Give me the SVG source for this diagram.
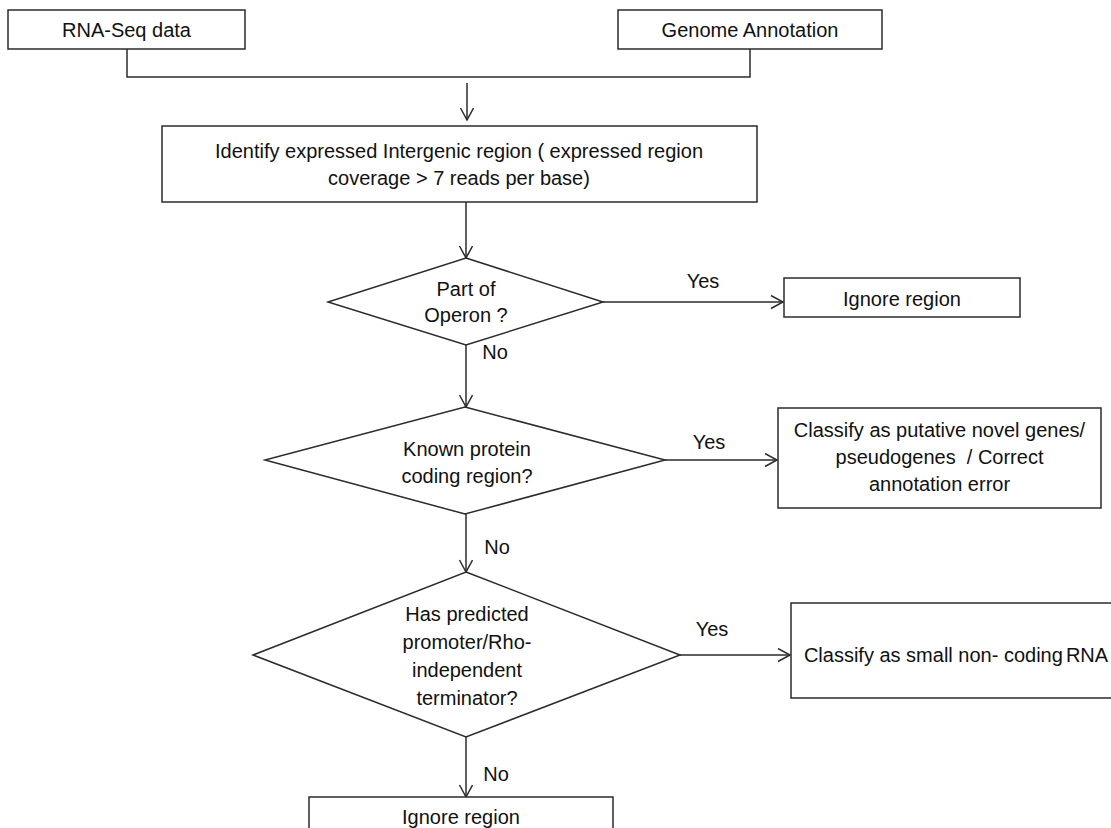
<svg xmlns="http://www.w3.org/2000/svg" width="1111" height="828" viewBox="0 0 1111 828">
<defs>
<marker id="arr" markerUnits="userSpaceOnUse" markerWidth="16" markerHeight="16" refX="13" refY="7" orient="auto">
<path d="M1,0.5 L13,7 L1,13.5" fill="none" stroke="#2b2b2b" stroke-width="1.5"/>
</marker>
<style>
.b{fill:#fff;stroke:#2b2b2b;stroke-width:1.5}
.t{font-family:"Liberation Sans",Arial,sans-serif;font-size:20px;fill:#111;text-anchor:middle}
.c{fill:none;stroke:#2b2b2b;stroke-width:1.5}
</style>
</defs>
<rect width="1111" height="828" fill="#fff"/>
<g id="connectors">
<polyline class="c" points="127,49 127,77 750,77 750,49"/>
<line class="c" x1="467" y1="83" x2="467" y2="120" marker-end="url(#arr)"/>
<line class="c" x1="466" y1="202" x2="466" y2="258" marker-end="url(#arr)"/>
<line class="c" x1="603" y1="302" x2="783" y2="302" marker-end="url(#arr)"/>
<line class="c" x1="466" y1="345" x2="466" y2="407" marker-end="url(#arr)"/>
<line class="c" x1="665" y1="460" x2="777" y2="460" marker-end="url(#arr)"/>
<line class="c" x1="466" y1="514" x2="466" y2="572" marker-end="url(#arr)"/>
<line class="c" x1="680" y1="655" x2="790" y2="655" marker-end="url(#arr)"/>
<line class="c" x1="466" y1="737" x2="466" y2="797" marker-end="url(#arr)"/>
<text class="t" x="703" y="288">Yes</text>
<text class="t" x="495" y="359">No</text>
<text class="t" x="709" y="449">Yes</text>
<text class="t" x="497" y="554">No</text>
<text class="t" x="712" y="636">Yes</text>
<text class="t" x="496" y="781">No</text>
</g>
<g id="rnaseq">
<rect class="b" x="8" y="10" width="237" height="39"/>
<text class="t" x="126.5" y="37">RNA-Seq data</text>
</g>
<g id="genome">
<rect class="b" x="618" y="10" width="264" height="39"/>
<text class="t" x="750" y="37">Genome Annotation</text>
</g>
<g id="identify">
<rect class="b" x="162" y="126" width="595" height="76"/>
<text class="t" x="459" y="158">Identify expressed Intergenic region ( expressed region</text>
<text class="t" x="459" y="185">coverage &gt; 7 reads per base)</text>
</g>
<g id="operon">
<polygon class="b" points="466,258 603,302 466,345 328,302"/>
<text class="t" x="466" y="296">Part of</text>
<text class="t" x="466" y="322">Operon ?</text>
</g>
<g id="ignore1">
<rect class="b" x="784" y="278" width="236" height="39"/>
<text class="t" x="902" y="306">Ignore region</text>
</g>
<g id="protein">
<polygon class="b" points="465,407 665,460 465,514 265,460"/>
<text class="t" x="467" y="456">Known protein</text>
<text class="t" x="467" y="483">coding region?</text>
</g>
<g id="novel">
<rect class="b" x="778" y="408" width="323" height="100"/>
<text class="t" x="939.5" y="437">Classify as putative novel genes/</text>
<text class="t" x="939.5" y="464" xml:space="preserve">pseudogenes  / Correct</text>
<text class="t" x="939.5" y="491">annotation error</text>
</g>
<g id="promoter">
<polygon class="b" points="466,572 680,655 466,737 253,655"/>
<text class="t" x="467" y="621">Has predicted</text>
<text class="t" x="467" y="649">promoter/Rho-</text>
<text class="t" x="467" y="677">independent</text>
<text class="t" x="467" y="705">terminator?</text>
</g>
<g id="ncrna">
<rect class="b" x="791" y="603" width="330" height="95"/>
<text class="t" x="956" y="662">Classify as small non- coding<tspan dx="3">RNA</tspan></text>
</g>
<g id="ignore2">
<rect class="b" x="309" y="797" width="304" height="60"/>
<text class="t" x="461" y="824">Ignore region</text>
</g>
</svg>
